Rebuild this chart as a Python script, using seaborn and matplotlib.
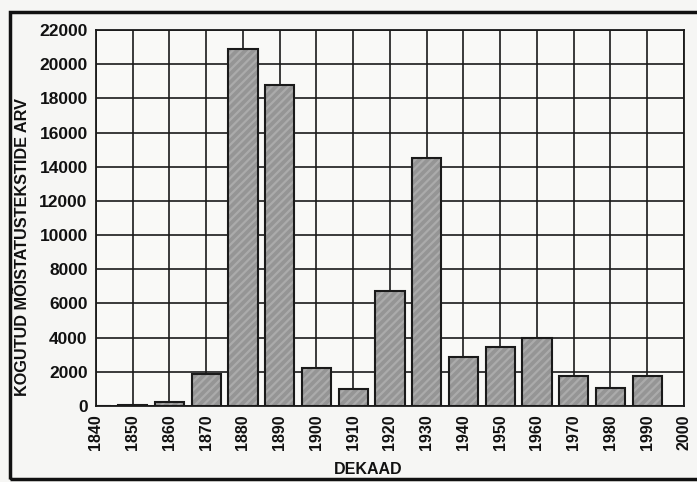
import matplotlib
matplotlib.use("Agg")
import matplotlib.pyplot as plt
import seaborn as sns
import pandas as pd
from matplotlib.patches import Rectangle

decades = [1840, 1850, 1860, 1870, 1880, 1890, 1900, 1910, 1920, 1930,
           1940, 1950, 1960, 1970, 1980, 1990]
counts = [20, 50, 250, 1850, 20900, 18800, 2200, 1000, 6700, 14500,
          2850, 3450, 4000, 1750, 1050, 1750]
x_ticks = list(range(1840, 2001, 10))
y_ticks = list(range(0, 22001, 2000))

df = pd.DataFrame({"dekaad": decades, "arv": counts})

sns.set_theme(style="white")
plt.rcParams['font.family'] = ['Liberation Sans', 'DejaVu Sans']
plt.rcParams['hatch.linewidth'] = 1.6

fig = plt.figure(figsize=(6.97, 4.82), dpi=100, facecolor="#f6f6f4")
ax = fig.add_axes([0.1377, 0.1577, 0.8436, 0.7801])
ax.set_facecolor("#f9f9f7")

# textured fill
sns.barplot(data=df, x="dekaad", y="arv", native_scale=True, width=0.8,
            color="#959595", edgecolor="#ababab", linewidth=0, hatch="////",
            saturation=1, ax=ax, zorder=3)
# dark outlines
sns.barplot(data=df, x="dekaad", y="arv", native_scale=True, width=0.8,
            color="#1a1a1a", fill=False, linewidth=1.5,
            saturation=1, ax=ax, zorder=4)

ax.set_xlim(1840, 2000)
ax.set_ylim(0, 22000)
ax.set_xticks(x_ticks)
ax.set_xticklabels([str(t) for t in x_ticks], rotation=90,
                   fontsize=11.5, fontweight="bold")
ax.set_yticks(y_ticks)
ax.set_yticklabels([str(t) for t in y_ticks], fontsize=12.5, fontweight="bold")
ax.grid(True, color="#1a1a1a", linewidth=1.2, zorder=0)
ax.set_axisbelow(True)
ax.tick_params(axis="both", length=0, pad=6, colors="#111111")
for s in ax.spines.values():
    s.set_color("#1a1a1a")
    s.set_linewidth(1.3)

ax.set_xlabel("DEKAAD", fontsize=11.5, fontweight="bold", color="#111111")
ax.xaxis.set_label_coords(0.463, -0.148)
ax.set_ylabel("KOGUTUD MÕISTATUSTEKSTIDE ARV", fontsize=11.7,
              fontweight="bold", color="#111111")
ax.yaxis.set_label_coords(-0.112, 0.424)

frame = Rectangle((0.0143, 0.006), 1.1, 0.969, transform=fig.transFigure,
                  fill=False, edgecolor="#111111", linewidth=2.5)
fig.patches.append(frame)

fig.savefig("out.png", dpi=100, facecolor=fig.get_facecolor())
